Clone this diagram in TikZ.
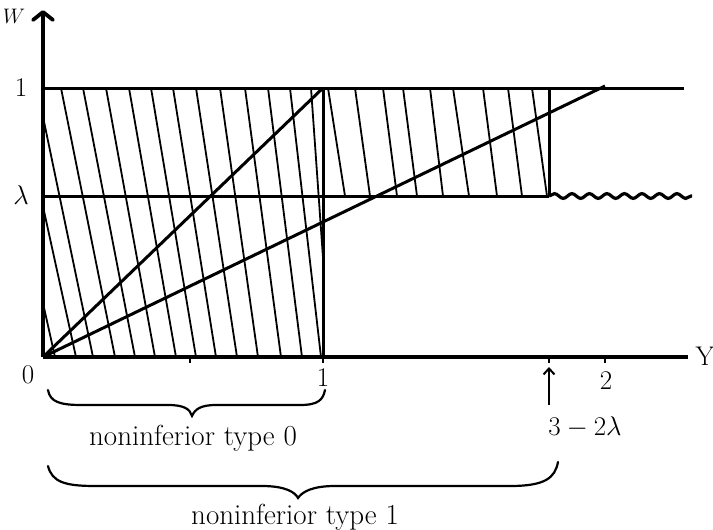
\RequirePackage{fix-cm}
\documentclass[tikz,border=0pt]{standalone}
\usetikzlibrary{arrows.meta,decorations.pathmorphing}
\begin{document}
\begin{tikzpicture}[x=1pt,y=-1pt,
  axis/.style={line width=3.8pt},
  bold/.style={line width=3pt},
  hatch/.style={line width=1.8pt},
  brace/.style={line width=2.2pt,line cap=round},
  lab/.style={font=\fontsize{27}{32}\selectfont,inner sep=0pt},
  txt/.style={font=\fontsize{29}{34}\selectfont,inner sep=0pt}]
\useasboundingbox (0,0) rectangle (713,530);
% key points
\coordinate (O) at (43,357);
\coordinate (Wtop) at (43,14);
\coordinate (Yend) at (688,357);
\coordinate (A1) at (43,88);
\coordinate (B1) at (323,88);
\coordinate (C1) at (549,88);
\coordinate (D1) at (605,86);
\coordinate (E1) at (684,88);
\coordinate (AL) at (43,196);
\coordinate (BL) at (323,196);
\coordinate (CL) at (549,196);
\coordinate (EL) at (692,196);
\coordinate (B0) at (323,357);
% hatching, region 0<=Y<=1
\begin{scope}
\clip (43,88) rectangle (323,357);
\foreach \t/\b in {-5/55,17/76,37/93,61/115,83/135,106/155,129/176,151/196,173/216,196/237,220/258,245/281,268/302,290/321}
  \draw[hatch] (\t,88) -- (\b,357);
\draw[hatch] (311,88) -- (326,300);
\end{scope}
% hatching, region 1<=Y<=3-2lambda, lambda<=W<=1
\begin{scope}
\clip (323,88) rectangle (549,196);
\foreach \t/\b in {328/345,355/370,383/397,403/417,430/443,453/469,483/497,508/522,532/547}
  \draw[hatch] (\t,88) -- (\b,196);
\end{scope}
% axes
\draw[axis] (O) -- (Wtop);
\draw[axis,line cap=round,line join=round] (33,20) -- (43,12) -- (53,20);
\draw[axis] (O) -- (Yend);
% ticks
\foreach \x in {190,323,549,605} \draw[line width=1.6pt] (\x,357) -- (\x,363);
% frame lines
\draw[bold] (A1) -- (E1);
\draw[bold] (AL) -- (CL);
\draw[bold] (B1) -- (B0);
\draw[bold] (C1) -- (CL);
\draw[line width=3.2pt,decorate,decoration={snake,segment length=17.5pt,amplitude=2.4pt}] (CL) -- (EL);
% diagonals
\draw[bold] (O) -- (B1);
\draw[bold] (O) -- (D1);
% labels
\node[font=\fontsize{21}{24}\selectfont,inner sep=0pt] (lW) at (14,16) {$W$};
\node[lab] (lY) at (705,356) {Y};
\node[lab] (l0) at (28,375) {0};
\node[lab] (l1) at (323,378) {1};
\node[lab] (l2) at (606,381) {2};
\node[lab] (lw1) at (21,88) {1};
\node[lab] (lwl) at (21,195) {$\lambda$};
\node[lab] (l32) at (585,427) {$3-2\lambda$};
% arrow to 3-2lambda
\coordinate (arrB) at (549,405);
\coordinate (arrT) at (549,367);
\draw[line width=2pt,-{Straight Barb[length=6pt,width=11pt]}] (arrB) -- (arrT);
% braces
\draw[brace] (48,390) .. controls (50,402) and (60,405) .. (82,405) -- (168,405)
  .. controls (184,405) and (190,409) .. (192,416)
  .. controls (195,409) and (201,405) .. (216,405) -- (300,405)
  .. controls (318,405) and (323,400) .. (325,390);
\node[txt] (t0) at (193,438) {noninferior type 0};
\draw[brace] (48,466) .. controls (52,482) and (65,486) .. (95,486) -- (262,486)
  .. controls (285,486) and (295,492) .. (298,498)
  .. controls (302,492) and (312,486) .. (335,486) -- (510,486)
  .. controls (545,486) and (555,478) .. (558,462);
\node[txt] (t1) at (295,517) {noninferior type 1};
\end{tikzpicture}
\end{document}
